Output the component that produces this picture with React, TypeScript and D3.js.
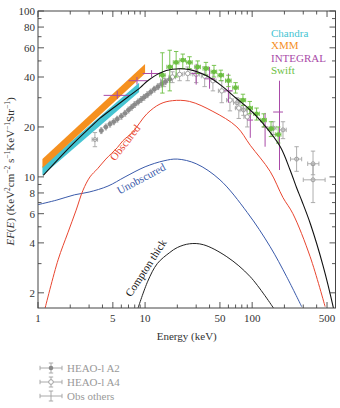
import React from "react";
import * as d3 from "d3";

// model curves (energy keV, E F(E))
const totalE = [1.12, 2, 3.1, 3.8, 5.2, 6.9, 9, 10.6, 13.8, 18, 26, 38, 53, 70, 96, 126, 183, 226, 260, 290, 350, 460, 570, 600];
const totalV = [10.2, 15.2, 20, 22.6, 26.4, 30.3, 34.5, 38, 42.3, 44.5, 44.3, 40.5, 35, 30, 25.3, 21, 15.2, 11, 8.6, 7.2, 5.2, 2.9, 1.65, 1.4];

const obscE = [1.16, 1.54, 1.9, 2.27, 2.63, 3.06, 3.6, 4.3, 5.5, 6.2, 7.7, 10.4, 13.8, 18, 26, 43, 72, 96, 147, 194, 240, 348, 480];
const obscV = [1.6, 3.16, 4.6, 6.3, 8.3, 10, 11.2, 12.8, 15, 16.5, 18.7, 24, 27.5, 28.8, 28.5, 24.8, 20, 15.5, 10.8, 7.5, 6, 3.3, 1.65];

const unobsE = [1, 1.5, 2.2, 3, 4.5, 6.5, 10, 15, 20, 30, 50, 90, 147, 210, 290];
const unobsV = [6.8, 7.25, 7.8, 8.1, 8.8, 10, 11.5, 12.5, 12.8, 12, 9.6, 6.1, 3.8, 2.5, 1.65];

const thickE = [8.6, 10.6, 13, 17, 20, 26, 35, 58, 96, 158];
const thickV = [1.62, 2.35, 3.0, 3.5, 3.75, 3.95, 3.9, 3.3, 2.5, 1.62];

// instrument bands
const xmmE = [1.1, 10];
const xmmLow = [11.3, 42];
const xmmHigh = [12.8, 48];
const chandraE = [1.1, 8.8];
const chandraLow = [10.2, 32.5];
const chandraHigh = [11.6, 37];

// Swift
const swiftE = [14.5, 17, 19.5, 22.5, 26, 31, 37, 44, 51, 60, 70, 82, 95, 110, 128, 150, 175];
const swiftV = [41, 46, 49, 50.5, 49, 46, 45, 43, 41, 38, 34.5, 29, 26, 24, 22, 19.5, 18];
const swiftLo = [32, 33, 40, 45, 45, 42, 41, 40, 38, 35, 32, 27, 24, 22, 20, 17.5, 16];
const swiftHi = [56, 58, 57, 55, 53, 50, 49, 47, 44, 41, 37, 31.5, 28.5, 26, 24, 21.5, 20];

// INTEGRAL
const intE = [5.5, 8.4, 11.5, 30, 40, 60, 96, 132, 180];
const intV = [31, 38, 42, 42, 39, 33, 22, 20, 24.6];
const intElo = [4.1, 7, 9.5, 27, 36, 55, 90, 124, 157];
const intEhi = [7.2, 10.5, 14, 34, 45, 66, 102, 140, 194];
const intVlo = [29.5, 36, 40, 36, 34, 28, 17.2, 15.2, 11];
const intVhi = [33, 40, 44, 48, 46, 42, 26.3, 24.3, 38];

// HEAO-1 A2
const a2E = [3.9, 4.3, 4.7, 5.1, 5.5, 6, 6.5, 7, 7.5, 8, 8.6, 9.2, 9.8, 10.5, 11.3, 12.2, 13.2, 14.3, 15.5, 17];
const a2V = [19, 20, 20.8, 21.5, 22.3, 23.2, 24.2, 25.3, 26.3, 27.3, 28.3, 29.3, 30.2, 31.3, 32.5, 33.8, 35, 36.3, 37.5, 38.8];

// HEAO-1 A4
const a4E = [15, 18, 21, 25, 30, 36, 43, 52, 62, 75, 90];
const a4V = [38, 40, 41.5, 42, 41.5, 40.5, 38, 33, 29, 26, 23];
const a4Lo = [35, 37, 38, 38, 37, 35, 33, 28, 25, 22.5, 20];
const a4Hi = [41, 43, 45, 46, 46, 46, 43, 38, 33, 29.5, 26];

// other observations
const othE = [3.4, 72, 83, 157, 194, 260, 370, 370];
const othV = [16.8, 28, 25.3, 19.7, 19.2, 12.8, 12, 9.6];
const othElo = [3.2, 67, 77, 147, 180, 228, 330, 300];
const othEhi = [3.6, 77, 89, 167, 208, 290, 420, 480];
const othVlo = [15.2, 26, 23.5, 18, 17, 10.8, 10.3, 7];
const othVhi = [18.5, 30, 27, 21.5, 21.5, 15.2, 14.3, 11.8];

const xTickLabels = [1, 5, 10, 50, 100, 500];
const yTickLabels = [2, 4, 6, 8, 10, 20, 40, 60, 80, 100];

const legendNames = ["Chandra", "XMM", "INTEGRAL", "Swift"];
const legendColors = ["#45c4d2", "#f5901f", "#a94aa8", "#6cbe42"];

const bottomLegend = ["HEAO-l A2", "HEAO-l A4", "Obs others"];

const W = 340;
const H = 408;
const left = 38;
const right = 335.5;
const top = 11;
const bottom = 308;

const font = "'Liberation Serif', 'Times New Roman', serif";

export default function App() {
  const x = d3.scaleLog().domain([1, 600]).range([left, right]);
  const y = d3.scaleLog().domain([1.62, 100]).range([bottom, top]);

  const line = d3
    .line<[number, number]>()
    .x((d) => x(d[0]))
    .y((d) => y(d[1]))
    .curve(d3.curveCatmullRom.alpha(0.5));

  const zip = (a: number[], b: number[]) => a.map((v, i) => [v, b[i]] as [number, number]);

  const band = (es: number[], lo: number[], hi: number[]) =>
    d3
      .area<number>()
      .x((d) => x(es[d]))
      .y0((d) => y(lo[d]))
      .y1((d) => y(hi[d]))(es.map((_, i) => i)) || "";

  const xMinor = x.ticks().filter((t) => t >= 1 && t <= 600);
  const yMinor = y.ticks().filter((t) => t >= 2 && t <= 100);

  const errBar = (
    key: string,
    cx: number,
    cy: number,
    x0: number,
    x1: number,
    y0: number,
    y1: number,
    color: string,
    cap = 2.2
  ) => (
    <g key={key} stroke={color} strokeWidth={0.9} fill="none">
      <line x1={x0} x2={x1} y1={cy} y2={cy} />
      <line x1={cx} x2={cx} y1={y0} y2={y1} />
      <line x1={cx - cap} x2={cx + cap} y1={y0} y2={y0} />
      <line x1={cx - cap} x2={cx + cap} y1={y1} y2={y1} />
      <line x1={x0} x2={x0} y1={cy - cap} y2={cy + cap} />
      <line x1={x1} x2={x1} y1={cy - cap} y2={cy + cap} />
    </g>
  );

  const sup = (t: string) => (
    <tspan baselineShift="super" fontSize={7.5}>
      {t}
    </tspan>
  );

  return (
    <svg
      width={W}
      height={H}
      style={{ position: "absolute", left: 0, top: 0, background: "#fff" }}
      fontFamily={font}
    >
      <defs>
        <clipPath id="plot">
          <rect x={left} y={top} width={right - left} height={bottom - top} />
        </clipPath>
      </defs>

      <g clipPath="url(#plot)">
        {/* bands */}
        <path d={band(chandraE, chandraLow, chandraHigh)} fill={legendColors[0]} />
        <path d={band(xmmE, xmmLow, xmmHigh)} fill={legendColors[1]} />

        {/* model curves */}
        <path d={line(zip(unobsE, unobsV)) || ""} fill="none" stroke="#3a5aaa" strokeWidth={1} />
        <path d={line(zip(obscE, obscV)) || ""} fill="none" stroke="#e8452f" strokeWidth={1} />
        <path d={line(zip(thickE, thickV)) || ""} fill="none" stroke="#222" strokeWidth={1} />

        {/* other obs */}
        {othE.map((e, i) =>
          errBar("o" + i, x(e), y(othV[i]), x(othElo[i]), x(othEhi[i]), y(othVlo[i]), y(othVhi[i]), "#a5a5a5")
        )}
        {othE.map((e, i) => (
          <circle key={"oc" + i} cx={x(e)} cy={y(othV[i])} r={2} fill="none" stroke="#999" strokeWidth={0.9} />
        ))}

        {/* HEAO A4 */}
        {a4E.map((e, i) =>
          errBar("a4" + i, x(e), y(a4V[i]), x(e * 0.93), x(e * 1.07), y(a4Lo[i]), y(a4Hi[i]), "#a5a5a5")
        )}
        {a4E.map((e, i) => (
          <circle key={"a4c" + i} cx={x(e)} cy={y(a4V[i])} r={2.2} fill="#fff" stroke="#999" strokeWidth={0.9} />
        ))}

        {/* HEAO A2 */}
        {a2E.map((e, i) =>
          errBar("a2" + i, x(e), y(a2V[i]), x(e * 0.96), x(e * 1.04), y(a2V[i] * 0.96), y(a2V[i] * 1.04), "#999", 1.2)
        )}
        {a2E.map((e, i) => (
          <circle key={"a2c" + i} cx={x(e)} cy={y(a2V[i])} r={2.3} fill="#8a8a8a" />
        ))}

        {/* INTEGRAL */}
        {intE.map((e, i) => (
          <g key={"in" + i} stroke={legendColors[2]} strokeWidth={1}>
            <line x1={x(intElo[i])} x2={x(intEhi[i])} y1={y(intV[i])} y2={y(intV[i])} />
            <line x1={x(e)} x2={x(e)} y1={y(intVlo[i])} y2={y(intVhi[i])} />
          </g>
        ))}

        {/* Swift */}
        {swiftE.map((e, i) =>
          errBar("s" + i, x(e), y(swiftV[i]), x(e * 0.94), x(e * 1.06), y(swiftLo[i]), y(swiftHi[i]), legendColors[3])
        )}
        {swiftE.map((e, i) => (
          <circle key={"sc" + i} cx={x(e)} cy={y(swiftV[i])} r={2.4} fill={legendColors[3]} />
        ))}

        {/* total */}
        <path d={line(zip(totalE, totalV)) || ""} fill="none" stroke="#111" strokeWidth={1.1} />
      </g>

      {/* frame */}
      <rect x={left} y={top} width={right - left} height={bottom - top} fill="none" stroke="#444" strokeWidth={1} />

      {/* x ticks */}
      {xMinor.map((t) => {
        const major = xTickLabels.includes(t);
        const len = major ? 6 : 3.5;
        return (
          <g key={"xt" + t} stroke="#444" strokeWidth={0.9}>
            <line x1={x(t)} x2={x(t)} y1={bottom} y2={bottom - len} />
            <line x1={x(t)} x2={x(t)} y1={top} y2={top + len} />
          </g>
        );
      })}
      {xTickLabels.map((t) => (
        <text key={"xl" + t} x={x(t)} y={bottom + 14} fontSize={11} textAnchor="middle" fill="#333">
          {t}
        </text>
      ))}

      {/* y ticks */}
      {yMinor.map((t) => {
        const major = yTickLabels.includes(t);
        const len = major ? 6 : 3.5;
        return (
          <g key={"yt" + t} stroke="#444" strokeWidth={0.9}>
            <line x1={left} x2={left + len} y1={y(t)} y2={y(t)} />
            <line x1={right} x2={right - len} y1={y(t)} y2={y(t)} />
          </g>
        );
      })}
      {yTickLabels.map((t) => (
        <text key={"yl" + t} x={left - 3} y={y(t) + 4} fontSize={11} textAnchor="end" fill="#333">
          {t}
        </text>
      ))}

      {/* axis titles */}
      <text x={(left + right) / 2} y={340} fontSize={11} textAnchor="middle" fill="#333">
        Energy (keV)
      </text>
      <text transform={`translate(14,${(top + bottom) / 2 + 12}) rotate(-90)`} fontSize={11} textAnchor="middle" fill="#333">
        <tspan fontStyle="italic">EF</tspan>(<tspan fontStyle="italic">E</tspan>)  (KeV{sup("2")}
        <tspan baselineShift="baseline">cm</tspan>
        {sup("−2")}
        <tspan baselineShift="baseline"> s</tspan>
        {sup("−1")}
        <tspan baselineShift="baseline">KeV</tspan>
        {sup("−1")}
        <tspan baselineShift="baseline">Str</tspan>
        {sup("−1")}
        <tspan baselineShift="baseline">)</tspan>
      </text>

      {/* curve labels */}
      <text transform="translate(128,145) rotate(-52)" fontSize={11} textAnchor="middle" fill="#e8452f">
        Obscured
      </text>
      <text transform="translate(143,182) rotate(-28)" fontSize={11} textAnchor="middle" fill="#3a5aaa">
        Unobscured
      </text>
      <text transform="translate(149,270) rotate(-57)" fontSize={11} textAnchor="middle" fill="#111">
        Compton thick
      </text>

      {/* instrument legend */}
      {legendNames.map((n, i) => (
        <text key={n} x={271} y={37 + i * 12.3} fontSize={11} fill={legendColors[i]}>
          {n}
        </text>
      ))}

      {/* bottom legend */}
      {bottomLegend.map((n, i) => {
        const cy = 368 + i * 14;
        return (
          <g key={n}>
            {errBar("lg" + i, 51, cy, 40, 62, cy - 5, cy + 5, "#a0a0a0")}
            {i === 0 && <circle cx={51} cy={cy} r={2.3} fill="#8a8a8a" />}
            {i === 1 && <circle cx={51} cy={cy} r={2.3} fill="#fff" stroke="#999" strokeWidth={0.9} />}
            <text x={67} y={cy + 4} fontSize={11} fill="#999">
              {n}
            </text>
          </g>
        );
      })}
    </svg>
  );
}
